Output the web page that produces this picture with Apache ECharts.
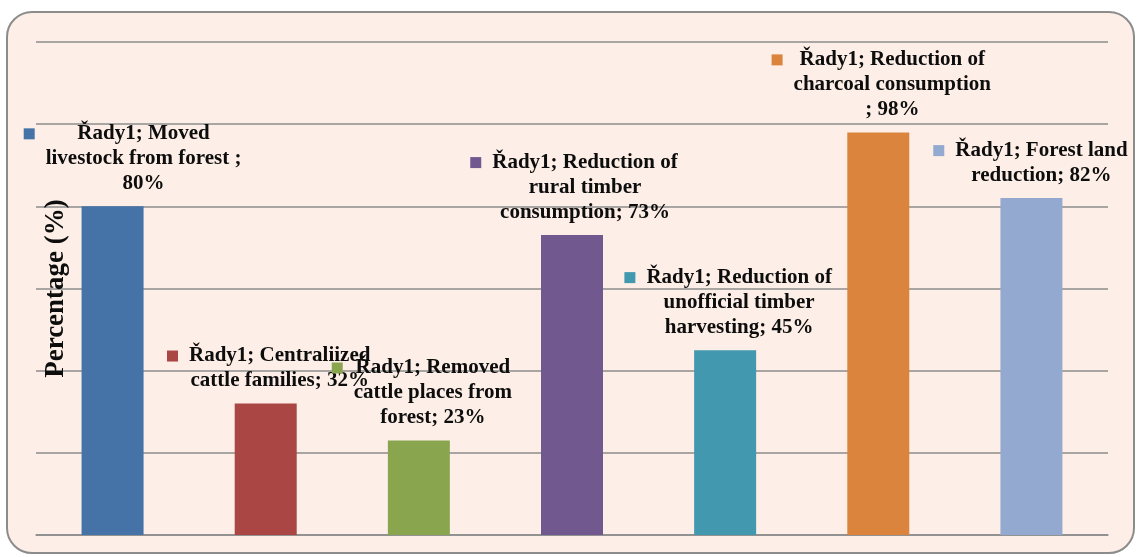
<!DOCTYPE html>
<html>
<head>
<meta charset="utf-8">
<script src="https://cdn.jsdelivr.net/npm/echarts@6/dist/echarts.min.js"></script>
<style>
    html, body { margin: 0; padding: 0; background: #ffffff; }
    #frame {
        position: absolute; left: 6px; top: 11px; width: 1125px; height: 539px;
        border: 2px solid #8c8c8c; border-radius: 26px; background: #fdefe7;
    }
    #chartDiv { position: absolute; left: 0; top: 0; width: 1137px; height: 557px; }
</style>
</head>
<body>
<div id="frame"></div>
<div id="chartDiv"></div>
<script>
// categories (label lines as they wrap in the picture)
var categories = [
    ['Řady1; Moved', 'livestock from forest ;', '80%'],
    ['Řady1; Centraliized', 'cattle families; 32%'],
    ['Řady1; Removed', 'cattle places from', 'forest; 23%'],
    ['Řady1; Reduction of', 'rural timber', 'consumption; 73%'],
    ['Řady1; Reduction of', 'unofficial timber', 'harvesting; 45%'],
    ['Řady1; Reduction of', 'charcoal consumption', '; 98%'],
    ['Řady1; Forest land', 'reduction; 82%']
];
var values = [80, 32, 23, 73, 45, 98, 82];
var yTicks = [0, 20, 40, 60, 80, 100, 120];

var barColors = ['#4572a7', '#aa4643', '#89a54e', '#71588f', '#4198af', '#db843d', '#93a9cf'];
var labelShift = [20, 3, 3, 2, 3, 3, -1];

function drawBars() {
    var myChart = echarts.init(document.getElementById('chartDiv'));

    var rich = {
        gap: { width: 11, align: 'left' },
        sp: { width: 22, align: 'left' },
        t: {
            align: 'center', fontFamily: 'Liberation Serif', fontWeight: 'bold',
            fontSize: 21, color: '#0d0d0d', lineHeight: 25
        }
    };
    barColors.forEach(function (c, i) {
        rich['sq' + i] = { width: 11, height: 11, backgroundColor: c, align: 'left' };
    });

    var data = values.map(function (v, i) {
        return {
            value: v,
            itemStyle: { color: barColors[i] },
            label: { offset: [labelShift[i], 0] }
        };
    });

    myChart.setOption({
        animation: false,
        grid: {
            left: 36,
            right: 29,
            top: 42,
            bottom: 22,
            outerBoundsMode: 'none'
        },
        xAxis: {
            type: 'category',
            data: categories.map(function (c) { return c.join(' '); }),
            axisTick: { show: false },
            axisLabel: { show: false },
            axisLine: { lineStyle: { color: '#8c8c8c', width: 1.5 } }
        },
        yAxis: {
            type: 'value',
            min: yTicks[0],
            max: yTicks[yTicks.length - 1],
            interval: 20,
            axisLabel: { show: false },
            axisLine: { show: false },
            axisTick: { show: false },
            splitLine: { lineStyle: { color: '#8c8c8c', width: 1.5 } },
            name: 'Percentage (%)',
            nameLocation: 'middle',
            nameRotate: 90,
            nameGap: -34,
            nameTextStyle: {
                fontFamily: 'Liberation Serif', fontWeight: 'bold',
                fontSize: 27, color: '#0d0d0d'
            }
        },
        series: [
            {
                name: 'Řady1',
                type: 'bar',
                barWidth: 62,
                data: data,
                label: {
                    show: true,
                    position: 'top',
                    distance: 10,
                    lineHeight: 25,
                    rich: rich,
                    formatter: function (p) {
                        var lines = categories[p.dataIndex];
                        return lines.map(function (l, j) {
                            if (j == 0) {
                                return '{sq' + p.dataIndex + '|}{gap|}{t|' + l + '}';
                            }
                            return '{sp|}{t|' + l + '}';
                        }).join('\n');
                    }
                }
            }
        ]
    });
}
drawBars();
</script>
</body>
</html>
